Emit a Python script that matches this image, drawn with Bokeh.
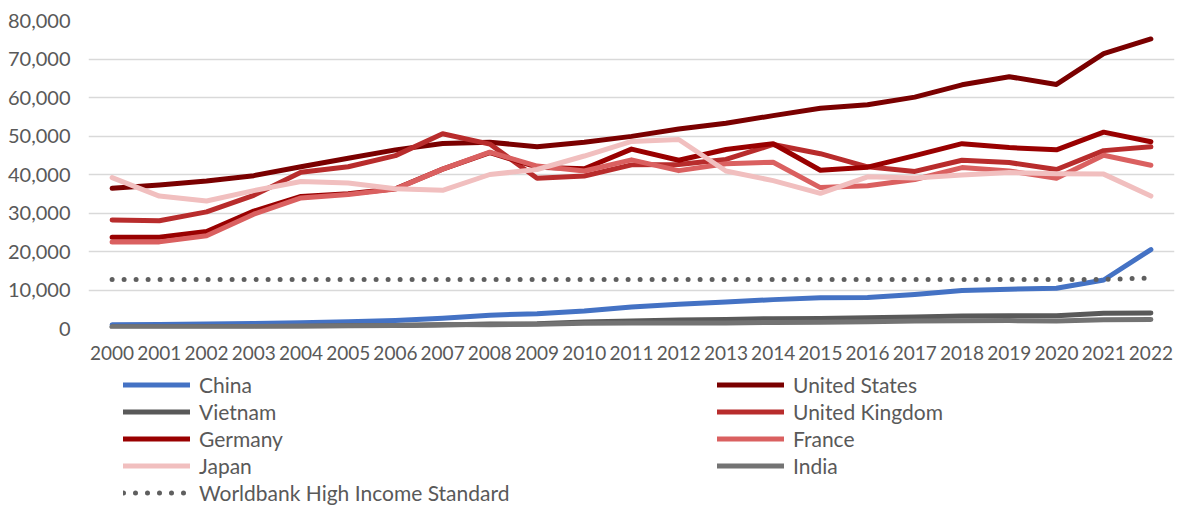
from bokeh.plotting import figure
from bokeh.layouts import column
from bokeh.models import Range1d, FixedTicker, NumeralTickFormatter, Legend, LegendItem
from bokeh.embed import file_html
from bokeh.resources import INLINE

years = [2000, 2001, 2002, 2003, 2004, 2005, 2006, 2007, 2008, 2009, 2010, 2011,
         2012, 2013, 2014, 2015, 2016, 2017, 2018, 2019, 2020, 2021, 2022]
y_ticks = [0, 10000, 20000, 30000, 40000, 50000, 60000, 70000, 80000]

china = [959, 1053, 1149, 1289, 1509, 1753, 2099, 2694, 3468, 3832, 4550, 5614,
         6300, 6900, 7500, 8000, 8070, 8840, 9870, 10200, 10450, 12600, 20500]
united_states = [36400, 37300, 38300, 39700, 42000, 44200, 46400, 48050, 48400, 47200, 48400, 49900,
                 51800, 53300, 55300, 57200, 58100, 60100, 63300, 65400, 63400, 71400, 75200]
vietnam = [400, 410, 440, 490, 550, 690, 800, 920, 1160, 1230, 1680, 1950,
           2190, 2370, 2560, 2600, 2760, 2990, 3270, 3300, 3300, 3950, 4050]
united_kingdom = [28200, 28000, 30300, 34600, 40600, 42000, 44900, 50600, 47900, 39000, 39600, 42500,
                  42600, 43900, 47800, 45400, 42000, 40800, 43700, 43100, 41300, 46200, 47200]
germany = [23700, 23700, 25200, 30500, 34300, 35000, 36300, 41400, 45700, 41900, 41500, 46600,
           43700, 46500, 48000, 41100, 41900, 44900, 48000, 47000, 46400, 51000, 48500]
france = [22500, 22500, 24100, 29700, 33900, 34800, 36200, 41400, 45800, 42200, 40900, 43800,
          41000, 42800, 43200, 36600, 37100, 38700, 41800, 40900, 39000, 45000, 42400]
japan = [39200, 34400, 33100, 35800, 38200, 37800, 36300, 35900, 40000, 41300, 44800, 48600,
         49100, 40900, 38400, 35100, 39400, 39100, 39900, 40500, 40200, 40100, 34400]
india = [440, 450, 470, 550, 630, 710, 810, 1030, 1000, 1100, 1360, 1460,
         1440, 1450, 1570, 1610, 1730, 1980, 2000, 2050, 1920, 2250, 2350]
worldbank = [12750, 12750, 12750, 12750, 12750, 12750, 12750, 12750, 12750, 12750, 12750, 12750,
             12750, 12750, 12750, 12750, 12750, 12750, 12750, 12750, 12750, 12750, 13100]

series = [
    ("China", china, "#4472C4", "solid"),
    ("United States", united_states, "#7A0000", "solid"),
    ("Vietnam", vietnam, "#595959", "solid"),
    ("United Kingdom", united_kingdom, "#B82C2C", "solid"),
    ("Germany", germany, "#990000", "solid"),
    ("France", france, "#DA6060", "solid"),
    ("Japan", japan, "#F1BFBF", "solid"),
    ("India", india, "#737373", "solid"),
    ("Worldbank High Income Standard", worldbank, "#5F5F5F", "0 12"),
]
left_col = ["China", "Vietnam", "Germany", "Japan", "Worldbank High Income Standard"]
right_col = ["United States", "United Kingdom", "France", "India"]

FONT = "Lato"
TXT = "#595959"
W = 1176

p = figure(width=W, height=365, output_backend="svg", toolbar_location=None,
           x_range=Range1d(1999.5, 2022.5), y_range=Range1d(0, 80000),
           min_border_left=88, min_border_right=2, min_border_top=20, min_border_bottom=37)
p.outline_line_color = None
p.xgrid.grid_line_color = None
p.ygrid.grid_line_color = "#D9D9D9"
p.ygrid.grid_line_width = 1.3
p.ygrid.ticker = FixedTicker(ticks=y_ticks)

p.yaxis.ticker = FixedTicker(ticks=y_ticks)
p.yaxis.formatter = NumeralTickFormatter(format="0,0")
p.xaxis.ticker = FixedTicker(ticks=years)
for ax in (p.xaxis, p.yaxis):
    ax.axis_line_color = None
    ax.major_tick_line_color = None
    ax.minor_tick_line_color = None
    ax.major_label_text_font = FONT
    ax.major_label_text_color = TXT
p.yaxis.major_label_text_font_size = "20px"
p.xaxis.major_label_text_font_size = "19px"
p.yaxis.major_label_standoff = 12
p.xaxis.major_label_standoff = 11

for name, vals, color, dash in series:
    p.line(years, vals, line_color=color, line_width=5, line_cap="round",
           line_join="round", line_dash=dash)

# legend strip below the chart (its frame is aligned with the chart frame, x from 88)
q = figure(width=W, height=140, output_backend="svg", toolbar_location=None,
           x_axis_location=None, y_axis_location=None,
           x_range=Range1d(1999.5, 2022.5), y_range=Range1d(0, 80000),
           min_border_left=88, min_border_right=2, min_border_top=0, min_border_bottom=0)
q.outline_line_color = None
q.grid.visible = False
rend = {}
for name, vals, color, dash in series:
    rend[name] = q.line(years, vals, line_color=color, line_width=5, line_cap="round",
                        line_join="round", line_dash=dash, visible=False)

def mk_legend(names, loc):
    lg = Legend(items=[LegendItem(label=n, renderers=[rend[n]]) for n in names], location=loc)
    lg.label_text_font = FONT
    lg.label_text_font_size = "21px"
    lg.label_text_color = TXT
    lg.glyph_width = 67
    lg.glyph_height = 27
    lg.label_height = 27
    lg.spacing = 0
    lg.padding = 0
    lg.margin = 0
    lg.label_standoff = 9
    lg.border_line_alpha = 0
    lg.background_fill_alpha = 0
    lg.inactive_fill_alpha = 0
    return lg

q.add_layout(mk_legend(left_col, (35, -1)))
q.add_layout(mk_legend(right_col, (629, 26)))

layout = column(p, q, spacing=0)
open("out.html", "w").write(file_html(layout, INLINE))
